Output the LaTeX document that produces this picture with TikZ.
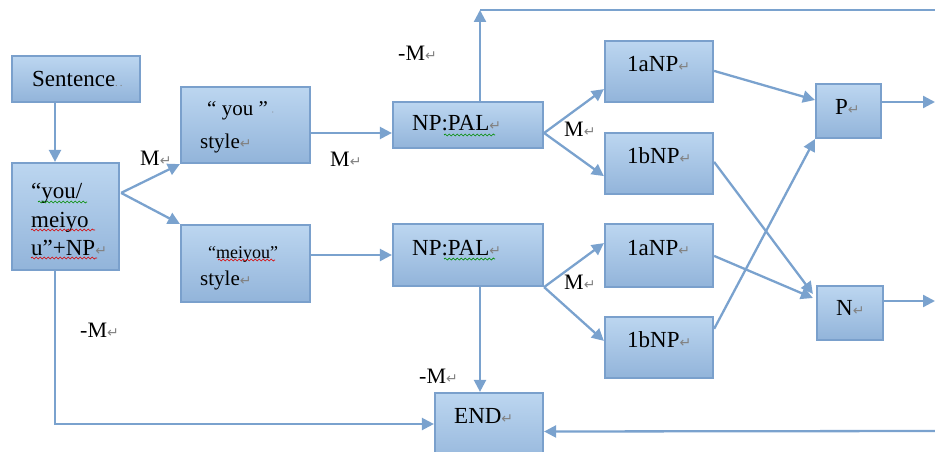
\documentclass[tikz,border=0pt]{standalone}
\usepackage{fontspec}
\setmainfont{Liberation Serif}
\newfontfamily\serif{Liberation Serif}
\newfontfamily\symfont{DejaVu Sans}
\usetikzlibrary{arrows.meta,decorations.pathmorphing,calc}
\definecolor{bord}{RGB}{122,160,204}
\definecolor{ftop}{RGB}{188,214,240}
\definecolor{fbot}{RGB}{146,180,218}
\definecolor{arr}{RGB}{122,162,206}
\definecolor{pmk}{RGB}{130,130,130}
\newcommand\pmark{{\color{pmk}\symfont\fontsize{14}{14}\selectfont ↵}}
\begin{document}
\begin{tikzpicture}[x=1pt,y=-1pt,
  box/.style={draw=bord, line width=2.2pt, top color=ftop, bottom color=fbot, inner sep=0pt, rectangle},
  conn/.style={draw=arr, line width=2.3pt, -{Triangle[length=12pt,width=12pt]}},
  plain/.style={draw=arr, line width=2.3pt},
  txt/.style={anchor=base west, inner sep=0pt, font=\serif\fontsize{23}{28}\selectfont},
  stxt/.style={anchor=base west, inner sep=0pt, font=\serif\fontsize{21}{26}\selectfont},
  lbl/.style={anchor=base west, inner sep=0pt, font=\serif\fontsize{22}{26}\selectfont},
  redwave/.style={draw=red!85!black, line width=0.7pt, decorate, decoration={snake, amplitude=1pt, segment length=4pt}},
  greenwave/.style={draw=green!55!black, line width=0.7pt, decorate, decoration={snake, amplitude=1pt, segment length=4pt}}
]
\useasboundingbox (0,0) rectangle (935,452);

% boxes
\node[box, minimum width=128pt, minimum height=46pt] (sent) at (76,79) {};
\node[box, minimum width=107pt, minimum height=107pt] (ym) at (65.5,216.5) {};
\node[box, minimum width=129pt, minimum height=76pt] (yous) at (245.5,125) {};
\node[box, minimum width=129pt, minimum height=77pt] (meis) at (245.5,263.5) {};
\node[box, minimum width=150pt, minimum height=46pt] (pal1) at (468,125) {};
\node[box, minimum width=150pt, minimum height=62pt] (pal2) at (468,255) {};
\node[box, minimum width=108pt, minimum height=61pt] (a1) at (659,71.5) {};
\node[box, minimum width=108pt, minimum height=61pt] (b1) at (659,163.5) {};
\node[box, minimum width=108pt, minimum height=63pt] (a2) at (659,255.5) {};
\node[box, minimum width=108pt, minimum height=61pt] (b2) at (659,347.5) {};
\node[box, minimum width=65pt, minimum height=54pt] (P) at (848.5,111) {};
\node[box, minimum width=66pt, minimum height=54pt] (N) at (850,313) {};
\node[box, minimum width=108pt, minimum height=77pt] (END) at (489,431.5) {};

% texts
\node[txt] (tsent) at (32,86) {Sentence{\color{pmk}\fontsize{11}{11}\selectfont .\,.}};
\node[txt] (tym1) at (31,198) {“you/};
\node[txt] (tym2) at (31,227) {meiyo};
\node[txt] (tym3) at (31,255) {u”+NP\pmark};
\node[stxt] (tyou1) at (207,116) {“\ you\ ”\,{\color{pmk}\fontsize{9}{9}\selectfont ·}};
\node[stxt] (tyou2) at (200,148) {style\pmark};
\node[anchor=base west, inner sep=0pt, font=\serif\fontsize{18}{22}\selectfont] (tmei1) at (208,258) {“meiyou”};
\node[stxt] (tmei2) at (200,285) {style\pmark};
\node[txt] (tpal1) at (412,131) {NP:PAL\pmark};
\node[txt] (tpal2) at (412,255) {NP:PAL\pmark};
\node[txt] (ta1) at (627,72) {1aNP\pmark};
\node[txt] (tb1) at (627,163) {1bNP\pmark};
\node[txt] (ta2) at (627,255) {1aNP\pmark};
\node[txt] (tb2) at (627,347) {1bNP\pmark};
\node[txt] (tP) at (835,114) {P\pmark};
\node[txt] (tN) at (836,315) {N\pmark};
\node[txt] (tEND) at (454,423) {END\pmark};

% spell-check underlines
\draw[greenwave] (38,202) -- (87,202);
\draw[redwave] (31,230) -- (95,230);
\draw[redwave] (31,258) -- (97,258);
\draw[redwave] (218,260) -- (275,260);
\draw[greenwave] (444,135) -- (495,135);
\draw[greenwave] (444,259) -- (495,259);

% labels
\node[lbl] (l1) at (140,165) {M\pmark};
\node[lbl] (l2) at (330,166) {M\pmark};
\node[lbl] (l3) at (398,61) {-M\pmark};
\node[lbl] (l4) at (564,136) {M\pmark};
\node[lbl] (l5) at (564,289) {M\pmark};
\node[lbl] (l6) at (419,383) {-M\pmark};
\node[lbl] (l7) at (80,337) {-M\pmark};

% free-end coordinates
\coordinate (topc) at (480,10);
\coordinate (topr) at (935,10);
\coordinate (pr) at (935,102);
\coordinate (nr) at (935,301);
\coordinate (er) at (935,431);

% connectors
\draw[conn] ($(sent.south)+(-21,0)$) -- ($(ym.north)+(-10.5,0)$);
\draw[conn] ($(ym.north east)+(1,31)$) -- (yous.south west);
\draw[conn] ($(ym.north east)+(1,31)$) -- (meis.north west);
\draw[conn] ($(yous.east)+(0,8)$) -- ($(pal1.west)+(0,8)$);
\draw[conn] (meis.east |- pal2.west) -- (pal2.west);
\draw[conn] ($(pal1.east)+(0,8)$) -- ($(a1.south west)+(0,-14)$);
\draw[conn] ($(pal1.east)+(0,8)$) -- ($(b1.south west)+(0,-19)$);
\draw[conn] (pal2.south east) -- ($(a2.south west)+(0,-45)$);
\draw[conn] (pal2.south east) -- ($(b2.north west)+(0,25)$);
\draw[conn] ($(pal1.north)+(12,0)$) -- (topc);
\draw[plain] (topc) -- (topr);
\draw[conn] ($(pal2.south)+(12,0)$) -- ($(END.north)+(-9,0)$);
\draw[conn] ($(ym.south)+(-10.5,0)$) |- ($(END.west)+(0,-7.5)$);
\draw[conn] (er) -- (END.east);
\draw[conn] ($(a1.north east)+(0,31)$) -- ($(P.west)+(0,-11)$);
\draw[conn] ($(b1.north east)+(0,30)$) -- ($(N.north west)+(-3,9)$);
\draw[conn] ($(b2.north east)+(0,13)$) -- (P.south west);
\draw[conn] ($(a2.north east)+(0,33)$) -- ($(N.west)+(-3,-15)$);
\draw[conn] ($(P.east)+(0,-9)$) -- (pr);
\draw[conn] ($(N.east)+(0,-12)$) -- (nr);
\end{tikzpicture}
\end{document}
